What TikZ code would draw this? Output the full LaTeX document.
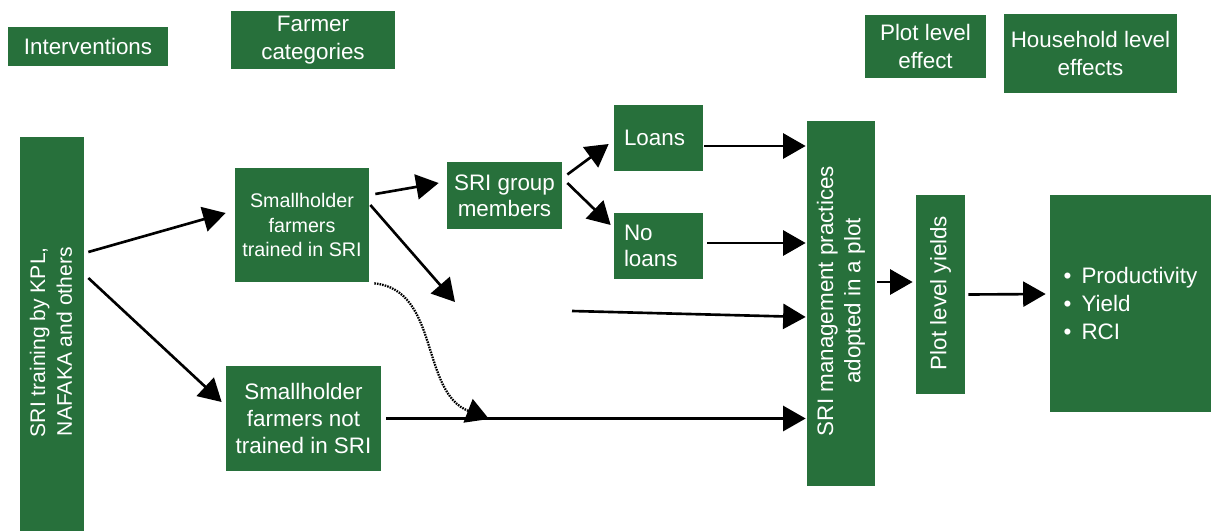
\documentclass[tikz,border=0pt]{standalone}
\usepackage{fontspec}
\setmainfont{Liberation Sans}
\usetikzlibrary{arrows.meta}
\definecolor{boxgreen}{RGB}{39,112,59}
\begin{document}
\begin{tikzpicture}[x=0.02cm,y=-0.02cm,
  box/.style={fill=boxgreen, text=white, inner sep=0pt, align=center, font=\fontsize{12.75}{15.5}\selectfont},
  vtext/.style={text=white, inner sep=0pt, rotate=90, font=\fontsize{12.75}{15.5}\selectfont},
  arr/.style={-{Triangle[length=0.45cm,width=0.5cm]}, line width=1.5pt},
  dotarr/.style={-{Triangle[length=0.45cm,width=0.5cm]}, line width=1.3pt, dash pattern=on 0.9pt off 0.6pt},
]
\useasboundingbox (0,0) rectangle (1217,531);

% header boxes
\node[box, minimum width=3.2cm, minimum height=0.78cm] (interv) at (88,46.5) {Interventions};
\node[box, minimum width=3.28cm, minimum height=1.16cm] (farmer) at (313,40) {Farmer\\categories};
\node[box, minimum width=2.42cm, minimum height=1.26cm] (plotfx) at (925.5,46.5) {Plot level\\effect};
\node[box, minimum width=3.46cm, minimum height=1.58cm] (hhfx) at (1090.5,53.5) {Household level\\effects};

% main boxes
\node[box, minimum width=1.28cm, minimum height=7.88cm] (train) at (52,334) {};
\node[vtext, align=right, anchor=east, font=\fontsize{12}{15.3}\selectfont] (train-t) at (51,247) {SRI training by KPL,\\NAFAKA and others};

\node[box, minimum width=2.68cm, minimum height=2.28cm, font=\fontsize{11.2}{13.9}\selectfont] (trained) at (302,225) {Smallholder\\farmers\\trained in SRI};
\node[box, minimum width=2.3cm, minimum height=1.34cm, font=\fontsize{12.75}{14.8}\selectfont] (group) at (504.5,195.5) {SRI group\\members};
\node[box, align=left, text width=1.38cm, inner xsep=0.2cm, minimum height=1.32cm, font=\fontsize{12.75}{14.8}\selectfont] (loans) at (658.5,138) {Loans};
\node[box, align=left, text width=1.38cm, inner xsep=0.2cm, minimum height=1.32cm, font=\fontsize{12.75}{14.8}\selectfont] (noloans) at (658.5,246) {No\\loans};
\node[box, minimum width=3.1cm, minimum height=2.1cm] (nottr) at (303.5,418.5) {Smallholder\\farmers not\\trained in SRI};

\node[box, minimum width=1.36cm, minimum height=7.3cm] (mgmt) at (841,303.5) {};
\node[vtext, align=center] (mgmt-t) at (841,301) {SRI management practices\\adopted in a plot};

\node[box, minimum width=0.98cm, minimum height=3.98cm] (plotyld) at (940.5,294.5) {};
\node[vtext] (plotyld-t) at (940.5,293) {Plot level yields};

\node[box, align=left, minimum width=3.22cm, minimum height=4.34cm, font=\fontsize{12.75}{15.9}\selectfont] (hh) at (1130.5,303.5) {•\ \,Productivity\\•\ \,Yield\\•\ \,RCI};

% free coordinates
\coordinate (fork) at (455,302);
\coordinate (restart) at (572,311);
\coordinate (dotend) at (489,419);

% connectors
\draw[arr] ([shift={(4,-82)}]train.east) -- ([shift={(-9,-12)}]trained.west);
\draw[arr] ([shift={(4,-56)}]train.east) -- ([shift={(-4,-16.5)}]nottr.west);
\draw[arr] ([shift={(6,-31)}]trained.east) -- ([shift={(-8,-12.5)}]group.west);
\draw[arr] ([shift={(1,-20)}]trained.east) -- (fork);
\draw[arr] ([shift={(5,-21)}]group.east) -- ([shift={(-5,6)}]loans.west);
\draw[arr] ([shift={(5,-12.5)}]group.east) -- ([shift={(-3,-21)}]noloans.west);
\draw[arr] ([shift={(1,8)}]loans.east) -- ([shift={(-1,-157.5)}]mgmt.west);
\draw[arr] ([shift={(4,-3)}]noloans.east) -- ([shift={(-1,-60.5)}]mgmt.west);
\draw[arr] (restart) -- ([shift={(-1,13.5)}]mgmt.west);
\draw[arr] ([shift={(5,0)}]nottr.east) -- ([shift={(-1,115)}]mgmt.west);
\draw[dotarr] ([shift={(5,1)}]trained.south east) .. controls (440,290) and (420,392) .. (dotend);
\draw[arr] ([shift={(2,-21.5)}]mgmt.east) -- ([shift={(-3,-12.5)}]plotyld.west);
\draw[arr] ([shift={(3,0)}]plotyld.east) -- ([shift={(-4,-9.5)}]hh.west);
\end{tikzpicture}
\end{document}
